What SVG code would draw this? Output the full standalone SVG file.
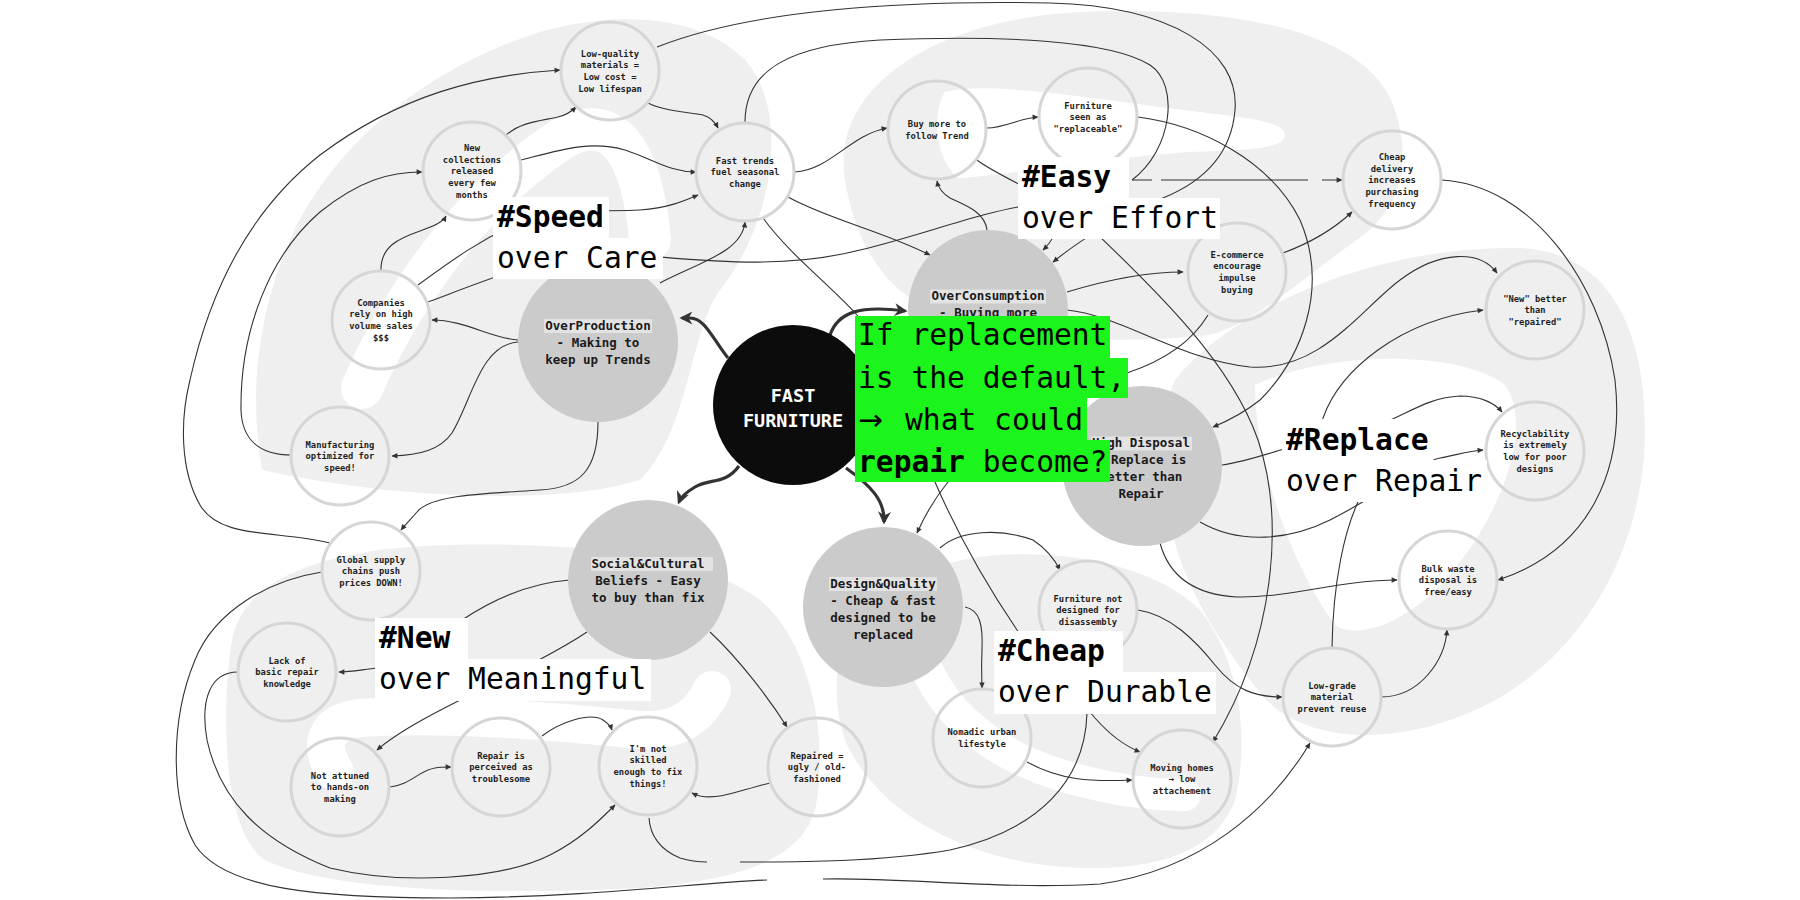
<svg xmlns="http://www.w3.org/2000/svg" width="1800" height="900" viewBox="0 0 1800 900">
<defs>
<style>
.bg{fill:#efefef}
.hole{fill:none;stroke:#ffffff;stroke-linecap:round}
.hw{fill:#ffffff}
.sn{fill:none;stroke:#d6d6d6;stroke-width:3}
.big{fill:#cbcbcb}
.hl{fill:#e3e3e3}
.st{font-family:"DejaVu Sans Mono",monospace;font-size:8.8px;font-weight:bold;fill:#1e1e1e;text-anchor:middle}
.bt{font-family:"DejaVu Sans Mono",monospace;font-size:12.5px;font-weight:bold;fill:#1a1a1a;text-anchor:middle}
.c{fill:none;stroke:#333333;stroke-width:1.1;marker-end:url(#a)}
.cn{fill:none;stroke:#333333;stroke-width:1.1}
.t{fill:none;stroke:#333333;stroke-width:3.2;marker-end:url(#b)}
.lb{fill:#ffffff}
.lt{font-family:"DejaVu Sans Mono",monospace;font-size:29.6px;fill:#000000}
.gb{fill:#1bf51b}
.ff{font-family:"DejaVu Sans Mono",monospace;font-size:18.5px;font-weight:bold;fill:#ffffff;text-anchor:middle}
</style>
<marker id="a" viewBox="0 0 10 10" refX="9" refY="5" markerWidth="7" markerHeight="6" orient="auto" markerUnits="userSpaceOnUse"><path d="M0,0.5 L10,5 L0,9.5 z" fill="#333333"/></marker>
<marker id="b" viewBox="0 0 10 10" refX="8" refY="5" markerWidth="14" markerHeight="13" orient="auto" markerUnits="userSpaceOnUse"><path d="M0,0 L10,5 L0,10 L3,5 z" fill="#333333"/></marker>
</defs>
<rect width="1800" height="900" fill="#ffffff"/>
<g id="background">
<path class="bg" d="M 262,470 C 250,400 255,320 290,240 C 330,150 420,70 540,32 C 620,10 700,15 745,60 C 790,110 775,220 720,290 C 690,330 690,430 640,480 C 560,505 400,500 262,470 Z"/>
<path class="hole" stroke-width="42" d="M 362,388 C 400,300 470,200 560,140 C 612,108 642,150 650,240"/>
<path class="bg" d="M 232,640 C 245,575 330,548 450,545 C 580,542 700,555 760,600 C 810,640 830,740 815,810 C 800,860 740,880 640,888 C 500,895 330,892 265,860 C 220,830 222,700 232,640 Z"/>
<path class="hole" stroke-width="38" d="M 335,772 C 318,745 325,722 360,718 C 450,712 560,722 640,730 C 680,732 700,715 712,690"/>
<path class="bg" d="M 840,660 C 850,600 920,560 1000,555 C 1080,550 1160,570 1200,610 C 1240,660 1250,740 1235,800 C 1215,855 1150,870 1080,868 C 980,865 880,820 845,740 C 835,710 835,680 840,660 Z"/>
<path class="hole" stroke-width="32" d="M 915,635 C 930,700 980,750 1060,775 C 1110,790 1150,795 1185,795"/>
<path class="bg" d="M 845,180 C 830,90 930,20 1080,12 C 1230,5 1370,30 1395,110 C 1415,175 1395,215 1350,245 C 1300,280 1260,320 1210,335 C 1120,345 1000,340 930,310 C 880,285 855,240 845,180 Z"/>
<path class="hw" d="M 945,92 C 990,80 1100,100 1200,112 C 1250,118 1285,122 1285,135 C 1285,150 1240,150 1190,152 C 1100,158 1010,175 958,178 C 935,160 932,110 945,92 Z"/>
<path class="bg" d="M 1175,380 C 1240,300 1390,245 1520,248 C 1610,252 1645,330 1645,430 C 1645,560 1570,680 1450,720 C 1370,748 1295,735 1262,695 C 1225,650 1180,585 1170,520 C 1162,465 1160,410 1175,380 Z"/>
<path class="hw" d="M 1255,385 C 1330,350 1460,350 1505,385 C 1535,425 1500,520 1445,580 C 1405,625 1355,640 1335,625 C 1295,570 1255,470 1255,385 Z"/>
</g>
<g id="connectors">
<path class="c" d="M 330,543 C 280,530 220,540 200,505 C 180,470 180,420 190,380 C 210,290 250,210 320,155 C 400,95 480,75 560,70"/>
<path class="c" d="M 292,455 C 260,455 242,440 241,410 C 240,330 270,255 320,212 C 360,180 390,172 422,172"/>
<path class="c" d="M 505,136 C 520,122 540,121 558,117 C 567,115 572,111 576,107"/>
<path class="c" d="M 521,160 C 560,150 590,140 625,150 C 655,160 670,172 696,172"/>
<path class="c" d="M 381,271 C 380,246 400,238 420,231 C 436,225 443,222 446,216"/>
<path class="c" d="M 418,285 C 455,258 480,240 520,222 C 560,208 600,212 640,210 C 668,208 684,201 698,195"/>
<path class="c" d="M 428,302 C 460,290 480,282 510,272 C 560,255 620,255 660,257 C 720,262 790,268 860,250 C 920,236 980,212 1030,205 C 1065,205 1062,232 1043,250"/>
<path class="c" d="M 657,47 C 750,10 900,0 1050,3 C 1170,6 1240,50 1235,110 C 1231,160 1195,185 1163,198 C 1120,215 1080,240 1053,262"/>
<path class="cn" d="M 745,122 C 745,70 790,45 880,40 C 1000,35 1110,40 1150,65 C 1180,85 1172,150 1132,180"/>
<path class="c" stroke-dasharray="20 9 147 14 40" d="M 1132,180 L 1342,180"/>
<path class="c" d="M 977,160 C 1000,178 1060,200 1095,232 C 1150,285 1230,360 1258,440 C 1285,520 1275,640 1213,742"/>
<path class="c" d="M 987,230 C 985,212 965,205 950,198 C 940,192 938,186 937,181"/>
<path class="c" d="M 795,172 C 830,170 850,135 887,128"/>
<path class="c" d="M 987,128 C 1005,128 1020,118 1038,117"/>
<path class="c" d="M 788,197 C 830,220 880,230 930,255"/>
<path class="c" d="M 660,283 C 700,262 742,252 745,222"/>
<path class="c" d="M 518,340 C 490,338 465,320 432,320"/>
<path class="c" d="M 518,342 C 480,345 472,400 452,433 C 440,450 420,455 392,456"/>
<path class="c" d="M 598,422 C 598,470 580,488 540,490 C 480,494 430,495 417,512 C 410,520 405,525 401,530"/>
<path class="c" d="M 648,103 C 665,112 690,112 703,115 C 712,118 716,124 718,128"/>
<path class="c" d="M 763,218 C 790,255 830,285 857,315 C 890,360 915,440 935,482 C 960,540 990,590 1017,630 C 1050,668 1080,700 1095,718 C 1110,735 1125,746 1140,752"/>
<path class="cn" d="M 649,818 C 650,835 660,850 680,858 C 690,861 700,862 707,862 M 740,862 C 800,862 880,862 950,850 C 1040,830 1085,780 1087,713 C 1088,690 1075,660 1060,645"/>
<path class="c" d="M 1208,315 C 1190,345 1160,362 1127,373 C 1050,400 980,450 948,482 C 935,498 925,515 917,533"/>
<path class="c" d="M 1067,292 C 1100,282 1140,272 1183,272"/>
<path class="c" d="M 1283,253 C 1310,243 1335,228 1352,212"/>
<path class="c" d="M 1067,310 C 1120,315 1180,360 1250,367 C 1320,372 1360,310 1400,280 C 1440,250 1480,250 1497,273"/>
<path class="c" d="M 1138,117 C 1200,125 1270,160 1300,220 C 1330,290 1300,360 1260,400 C 1245,412 1230,420 1213,427"/>
<path class="c" d="M 1442,180 C 1530,185 1600,280 1615,380 C 1625,470 1590,550 1498,580"/>
<path class="c" d="M 1332,648 C 1333,580 1345,530 1358,502 C 1370,470 1318,445 1323,418 C 1340,370 1400,320 1483,310"/>
<path class="c" d="M 1222,465 C 1260,460 1300,440 1360,430 C 1400,422 1420,398 1460,396 C 1480,396 1495,403 1502,412"/>
<path class="c" d="M 1200,522 C 1240,545 1290,540 1330,520 C 1380,495 1420,462 1440,458 C 1460,454 1470,451 1483,450"/>
<path class="c" d="M 1160,543 C 1170,580 1200,595 1237,597 C 1290,598 1340,580 1397,580"/>
<path class="c" d="M 1381,697 C 1420,697 1445,660 1447,630"/>
<path class="c" d="M 1138,610 C 1170,615 1195,640 1215,665 C 1235,690 1255,697 1282,697"/>
<path class="c" d="M 322,572 C 270,580 215,610 195,660 C 170,720 170,800 195,845 C 225,890 320,898 450,898 C 600,897 700,882 767,880 M 823,879 C 900,877 1000,890 1100,884 C 1200,870 1270,810 1310,743"/>
<path class="c" d="M 238,672 C 210,672 200,700 207,740 C 220,800 260,840 330,868 C 400,885 500,880 550,855 C 580,840 600,820 615,805"/>
<path class="c" d="M 570,580 C 530,583 495,598 462,620 C 430,640 400,665 378,668 C 360,670 350,672 339,672"/>
<path class="c" d="M 587,632 C 560,650 520,670 480,690 C 440,710 400,730 377,750"/>
<path class="c" d="M 390,787 C 410,785 420,770 435,768 C 440,767 445,767 451,767"/>
<path class="c" d="M 542,736 C 560,722 590,712 603,720 C 609,724 611,727 612,730"/>
<path class="c" d="M 710,632 C 740,660 770,700 787,727"/>
<path class="c" d="M 770,783 C 740,790 720,800 700,796 C 696,795 694,794 692,793"/>
<path class="c" d="M 940,548 C 960,530 1000,528 1033,540 C 1045,548 1055,560 1060,570"/>
<path class="c" d="M 965,607 C 980,610 983,625 982,650 C 981,670 982,680 982,688"/>
<path class="c" d="M 1027,762 C 1060,780 1090,782 1132,780"/>
<path class="t" d="M 728,358 C 712,338 705,318 690,318 L 682,318"/>
<path class="t" d="M 830,335 C 838,312 860,305 905,311"/>
<path class="t" d="M 739,466 C 725,485 710,478 695,487 C 685,493 681,497 679,502"/>
<path class="t" d="M 846,468 C 870,485 885,500 884,522"/>
</g>
<g id="n-lowquality"><circle class="sn" cx="610" cy="71" r="49"/><text class="st" x="610" y="56.6">Low-quality<tspan x="610" dy="11.7">materials =</tspan><tspan x="610" dy="11.7">Low cost =</tspan><tspan x="610" dy="11.7">Low lifespan</tspan></text></g>
<g id="n-newcollections"><circle class="sn" cx="472" cy="171" r="49"/><text class="st" x="472" y="150.8">New<tspan x="472" dy="11.7">collections</tspan><tspan x="472" dy="11.7">released</tspan><tspan x="472" dy="11.7">every few</tspan><tspan x="472" dy="11.7">months</tspan></text></g>
<g id="n-fasttrends"><circle class="sn" cx="745" cy="172" r="49"/><text class="st" x="745" y="163.5">Fast trends<tspan x="745" dy="11.7">fuel seasonal</tspan><tspan x="745" dy="11.7">change</tspan></text></g>
<g id="n-buymore"><circle class="sn" cx="937" cy="130" r="49"/><text class="st" x="937" y="127.3">Buy more to<tspan x="937" dy="11.7">follow Trend</tspan></text></g>
<g id="n-furnitureseen"><circle class="sn" cx="1088" cy="117" r="49"/><text class="st" x="1088" y="108.5">Furniture<tspan x="1088" dy="11.7">seen as</tspan><tspan x="1088" dy="11.7">"replaceable"</tspan></text></g>
<g id="n-cheapdelivery"><circle class="sn" cx="1392" cy="180" r="49"/><text class="st" x="1392" y="159.8">Cheap<tspan x="1392" dy="11.7">delivery</tspan><tspan x="1392" dy="11.7">increases</tspan><tspan x="1392" dy="11.7">purchasing</tspan><tspan x="1392" dy="11.7">frequency</tspan></text></g>
<g id="n-companies"><circle class="sn" cx="381" cy="320" r="49"/><text class="st" x="381" y="305.6">Companies<tspan x="381" dy="11.7">rely on high</tspan><tspan x="381" dy="11.7">volume sales</tspan><tspan x="381" dy="11.7">$$$</tspan></text></g>
<g id="n-ecommerce"><circle class="sn" cx="1237" cy="272" r="49"/><text class="st" x="1237" y="257.6">E-commerce<tspan x="1237" dy="11.7">encourage</tspan><tspan x="1237" dy="11.7">impulse</tspan><tspan x="1237" dy="11.7">buying</tspan></text></g>
<g id="n-newbetter"><circle class="sn" cx="1535" cy="310" r="49"/><text class="st" x="1535" y="301.5">"New" better<tspan x="1535" dy="11.7">than</tspan><tspan x="1535" dy="11.7">"repaired"</tspan></text></g>
<g id="n-manufacturing"><circle class="sn" cx="340" cy="456" r="49"/><text class="st" x="340" y="447.5">Manufacturing<tspan x="340" dy="11.7">optimized for</tspan><tspan x="340" dy="11.7">speed!</tspan></text></g>
<g id="n-recyclability"><circle class="sn" cx="1535" cy="451" r="49"/><text class="st" x="1535" y="436.6">Recyclability<tspan x="1535" dy="11.7">is extremely</tspan><tspan x="1535" dy="11.7">low for poor</tspan><tspan x="1535" dy="11.7">designs</tspan></text></g>
<g id="n-globalsupply"><circle class="sn" cx="371" cy="571" r="49"/><text class="st" x="371" y="562.5">Global supply<tspan x="371" dy="11.7">chains push</tspan><tspan x="371" dy="11.7">prices DOWN!</tspan></text></g>
<g id="n-bulkwaste"><circle class="sn" cx="1448" cy="580" r="49"/><text class="st" x="1448" y="571.5">Bulk waste<tspan x="1448" dy="11.7">disposal is</tspan><tspan x="1448" dy="11.7">free/easy</tspan></text></g>
<g id="n-lackrepair"><circle class="sn" cx="287" cy="672" r="49"/><text class="st" x="287" y="663.5">Lack of<tspan x="287" dy="11.7">basic repair</tspan><tspan x="287" dy="11.7">knowledge</tspan></text></g>
<g id="n-furniturenot"><circle class="sn" cx="1088" cy="610" r="49"/><text class="st" x="1088" y="601.5">Furniture not<tspan x="1088" dy="11.7">designed for</tspan><tspan x="1088" dy="11.7">disassembly</tspan></text></g>
<g id="n-lowgrade"><circle class="sn" cx="1332" cy="697" r="49"/><text class="st" x="1332" y="688.5">Low-grade<tspan x="1332" dy="11.7">material</tspan><tspan x="1332" dy="11.7">prevent reuse</tspan></text></g>
<g id="n-notattuned"><circle class="sn" cx="340" cy="787" r="49"/><text class="st" x="340" y="778.5">Not attuned<tspan x="340" dy="11.7">to hands-on</tspan><tspan x="340" dy="11.7">making</tspan></text></g>
<g id="n-repairis"><circle class="sn" cx="501" cy="767" r="49"/><text class="st" x="501" y="758.5">Repair is<tspan x="501" dy="11.7">perceived as</tspan><tspan x="501" dy="11.7">troublesome</tspan></text></g>
<g id="n-notskilled"><circle class="sn" cx="648" cy="766" r="49"/><text class="st" x="648" y="751.6">I'm not<tspan x="648" dy="11.7">skilled</tspan><tspan x="648" dy="11.7">enough to fix</tspan><tspan x="648" dy="11.7">things!</tspan></text></g>
<g id="n-repaired"><circle class="sn" cx="817" cy="767" r="49"/><text class="st" x="817" y="758.5">Repaired =<tspan x="817" dy="11.7">ugly / old-</tspan><tspan x="817" dy="11.7">fashioned</tspan></text></g>
<g id="n-nomadic"><circle class="sn" cx="982" cy="738" r="49"/><text class="st" x="982" y="735.3">Nomadic urban<tspan x="982" dy="11.7">lifestyle</tspan></text></g>
<g id="n-movinghomes"><circle class="sn" cx="1182" cy="779" r="49"/><text class="st" x="1182" y="770.5">Moving homes<tspan x="1182" dy="11.7">→ low</tspan><tspan x="1182" dy="11.7">attachement</tspan></text></g>
<g id="n-overproduction"><circle class="big" cx="598" cy="342" r="80"/><rect class="hl" x="544" y="319" width="108" height="14"/><text class="bt" x="598" y="329.5">OverProduction<tspan x="598" dy="17">- Making to</tspan><tspan x="598" dy="17">keep up Trends</tspan></text></g>
<g id="n-overconsumption"><circle class="big" cx="988" cy="310" r="80"/><rect class="hl" x="930" y="289.5" width="116" height="14"/><text class="bt" x="988" y="300">OverConsumption<tspan x="988" dy="17">- Buying more</tspan></text></g>
<g id="n-highdisposal"><circle class="big" cx="1142" cy="466" r="80"/><rect class="hl" x="1091" y="436.5" width="101" height="14"/><text class="bt" x="1141" y="447">High Disposal<tspan x="1141" dy="17">- Replace is</tspan><tspan x="1141" dy="17">better than</tspan><tspan x="1141" dy="17">Repair</tspan></text></g>
<g id="n-social"><circle class="big" cx="648" cy="580" r="80"/><rect class="hl" x="591" y="557" width="122" height="14"/><text class="bt" x="648" y="567.5">Social&amp;Cultural<tspan x="648" dy="17">Beliefs - Easy</tspan><tspan x="648" dy="17">to buy than fix</tspan></text></g>
<g id="n-design"><circle class="big" cx="883" cy="607" r="80"/><rect class="hl" x="829" y="577" width="108" height="14"/><text class="bt" x="883" y="587.5">Design&amp;Quality<tspan x="883" dy="17">- Cheap &amp; fast</tspan><tspan x="883" dy="17">designed to be</tspan><tspan x="883" dy="17">replaced</tspan></text></g>
<g id="n-fastfurniture"><circle cx="793" cy="405" r="80" fill="#0c0c0c"/><text class="ff" x="793" y="402">FAST<tspan x="793" dy="25">FURNITURE</tspan></text></g>
<g id="label-speed"><rect class="lb" x="493" y="197" width="116" height="41"/><rect class="lb" x="493" y="238" width="170" height="41"/><text class="lt" x="497" y="227" font-weight="bold">#Speed</text><text class="lt" x="497" y="268">over Care</text></g>
<g id="label-easy"><rect class="lb" x="1018" y="157" width="111" height="41"/><rect class="lb" x="1018" y="198" width="202" height="41"/><text class="lt" x="1022" y="187" font-weight="bold">#Easy</text><text class="lt" x="1022" y="228">over Effort</text></g>
<g id="label-replace"><rect class="lb" x="1282" y="419" width="151" height="41"/><rect class="lb" x="1282" y="460" width="205" height="42"/><text class="lt" x="1286" y="450" font-weight="bold">#Replace</text><text class="lt" x="1286" y="491">over Repair</text></g>
<g id="label-new"><rect class="lb" x="375" y="618" width="93" height="41"/><rect class="lb" x="375" y="659" width="276" height="42"/><text class="lt" x="379" y="648" font-weight="bold">#New</text><text class="lt" x="379" y="689">over Meaningful</text></g>
<g id="label-cheap"><rect class="lb" x="994" y="631" width="129" height="41"/><rect class="lb" x="994" y="672" width="222" height="42"/><text class="lt" x="998" y="661" font-weight="bold">#Cheap</text><text class="lt" x="998" y="702">over Durable</text></g>
<g id="question">
<rect class="gb" x="855" y="316" width="255" height="42"/>
<rect class="gb" x="855" y="358" width="273" height="40"/>
<rect class="gb" x="855" y="398" width="232" height="42"/>
<rect class="gb" x="855" y="440" width="255" height="42"/>
<text class="lt" x="858" y="345">If replacement</text>
<text class="lt" x="858" y="388">is the default,</text>
<text class="lt" y="430"><tspan x="858" font-family="DejaVu Sans, sans-serif">→</tspan><tspan x="905">what could</tspan></text>
<text class="lt" x="858" y="472"><tspan font-weight="bold">repair</tspan> become?</text>
</g>
</svg>
